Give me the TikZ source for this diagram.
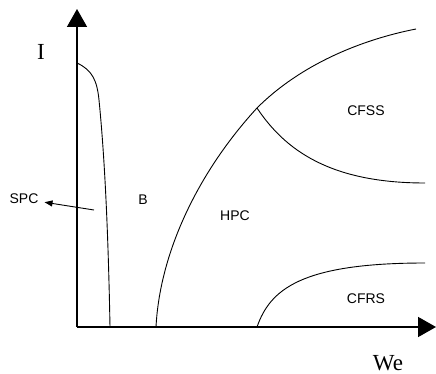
\documentclass[tikz,border=0pt]{standalone}
\usepackage{fontspec}
\setmainfont{Liberation Serif}
\setsansfont{Liberation Sans}
\usetikzlibrary{arrows.meta}

\begin{document}
\begin{tikzpicture}[x=1pt,y=-1pt,
  ax/.style={line width=1.6pt,-{Triangle[length=18pt,width=20pt]}},
  bd/.style={line width=0.9pt},
  lb/.style={font=\sffamily\fontsize{14}{14}\selectfont,inner sep=0pt},
  vl/.style={font=\fontsize{23}{23}\selectfont,inner sep=0pt}]
  \useasboundingbox (0,0) rectangle (436,374);
  \coordinate (o) at (77,327);
  \coordinate (ytip) at (77,9);
  \coordinate (xtip) at (436,327);
  \draw[ax] (o) -- (ytip);
  \draw[ax] (o) -- (xtip);
  \node[vl] (I) at (41,52) {I};
  \node[vl] (We) at (388,363) {We};
  % phase boundaries
  \coordinate (j) at (257,108);
  \draw[bd] (77,63) .. controls (92,70) and (97,80) .. (99,100)
    .. controls (104,150) and (108,220) .. (110,327);
  \draw[bd] (156,327) .. controls (160,250) and (200,170) .. (j)
    .. controls (300,65) and (360,40) .. (416,29);
  \draw[bd] (j) .. controls (285,150) and (330,183) .. (425,183);
  \draw[bd] (257,327) .. controls (270,290) and (300,263) .. (425,263);
  % regions
  \node[lb] (spc) at (24,199) {SPC};
  \node[lb] (b) at (143,200) {B};
  \node[lb] (hpc) at (235,216) {HPC};
  \node[lb] (cfss) at (366,111) {CFSS};
  \node[lb] (cfrs) at (366,299) {CFRS};
  \coordinate (sp) at (94,210);
  \draw[bd,-{Triangle[length=8pt,width=6pt]},shorten >=6pt] (sp) -- (spc);
\end{tikzpicture}
\end{document}
